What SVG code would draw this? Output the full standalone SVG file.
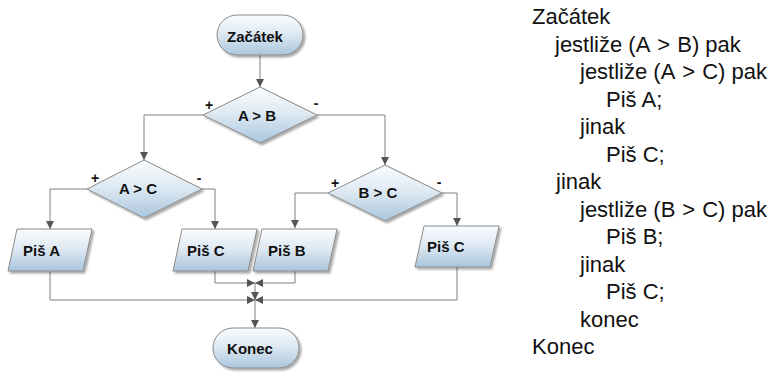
<svg xmlns="http://www.w3.org/2000/svg" width="776" height="374" viewBox="0 0 776 374">
<defs>
<linearGradient id="g" x1="0" y1="0" x2="0" y2="1">
<stop offset="0" stop-color="#fafcfe"/>
<stop offset="0.45" stop-color="#dfeaf3"/>
<stop offset="1" stop-color="#aac6dd"/>
</linearGradient>
<filter id="sh" x="-20%" y="-20%" width="140%" height="150%">
<feDropShadow dx="2" dy="2" stdDeviation="1" flood-color="#000" flood-opacity="0.35"/>
</filter>
<marker id="ah" viewBox="0 0 10 10" refX="10" refY="5" markerWidth="8" markerHeight="8" markerUnits="userSpaceOnUse" orient="auto">
<path d="M0,0 L10,5 L0,10 z" fill="#555"/>
</marker>
</defs>
<style>
.n{fill:url(#g);stroke:#8a8a8a;stroke-width:1;filter:url(#sh)}
.t{font-family:"Liberation Sans",Arial,sans-serif;font-size:15px;font-weight:bold;fill:#111}
.s{font-family:"Liberation Sans",Arial,sans-serif;font-size:14px;font-weight:bold;fill:#111}
.c{fill:none;stroke:#808080;stroke-width:1}
.a{marker-end:url(#ah)}
.p{font-family:"Liberation Sans",Arial,sans-serif;font-size:22px;fill:#111}
</style>
<g id="connectors">
<path class="c a" d="M260,55 V87"/>
<path class="c a" d="M203,115 H144 V160"/>
<path class="c a" d="M317,115 H385 V165"/>
<path class="c a" d="M87,189 H50 V229"/>
<path class="c a" d="M202,189 H215 V229"/>
<path class="c a" d="M328,193 H295 V228"/>
<path class="c a" d="M442,193 H457 V226"/>
<path class="c a" d="M215,271 V283 H255"/>
<path class="c a" d="M295,271 V283 H255"/>
<path class="c a" d="M255,283 V300"/>
<path class="c a" d="M50,271 V300 H255"/>
<path class="c a" d="M457,267 V300 H255"/>
<path class="c a" d="M255,300 V328"/>
</g>
<g id="start">
<rect class="n" x="217" y="15" width="86" height="40" rx="20"/>
<text class="t" x="255" y="42" text-anchor="middle">Začátek</text>
</g>
<g id="d1">
<polygon class="n" points="260,87 317,115 260,143 203,115"/>
<text class="t" x="257" y="121" text-anchor="middle">A &gt; B</text>
<text class="s" x="209" y="110" text-anchor="middle">+</text>
<text class="s" x="316" y="108" text-anchor="middle">-</text>
</g>
<g id="d2">
<polygon class="n" points="144,160 202,189 144,218 87,189"/>
<text class="t" x="138" y="194" text-anchor="middle">A  &gt; C</text>
<text class="s" x="95" y="183" text-anchor="middle">+</text>
<text class="s" x="199" y="183" text-anchor="middle">-</text>
</g>
<g id="d3">
<polygon class="n" points="385,165 442,193 385,221 328,193"/>
<text class="t" x="378" y="198" text-anchor="middle">B &gt; C</text>
<text class="s" x="335" y="188" text-anchor="middle">+</text>
<text class="s" x="439" y="187" text-anchor="middle">-</text>
</g>
<g id="pisA">
<polygon class="n" points="17,229 92,229 83,271 8,271"/>
<text class="t" x="23" y="256">Piš A</text>
</g>
<g id="pisC1">
<polygon class="n" points="182,229 257,229 248,271 173,271"/>
<text class="t" x="187" y="256">Piš C</text>
</g>
<g id="pisB">
<polygon class="n" points="262,229 337,229 328,271 253,271"/>
<text class="t" x="268" y="256">Piš B</text>
</g>
<g id="pisC2">
<polygon class="n" points="424,226 499,226 490,267 415,267"/>
<text class="t" x="427" y="252">Piš C</text>
</g>
<g id="end">
<rect class="n" x="213" y="328" width="86" height="40" rx="20"/>
<text class="t" x="250" y="354" text-anchor="middle">Konec</text>
</g>
<g id="pseudocode">
<text class="p" x="532" y="24">Začátek</text>
<text class="p" x="555" y="51.5">jestliže (A<tspan dx="7">&gt;</tspan><tspan dx="7">B) pak</tspan></text>
<text class="p" x="580" y="79">jestliže (A<tspan dx="7">&gt;</tspan><tspan dx="7">C) pak</tspan></text>
<text class="p" x="606" y="106.5">Piš A;</text>
<text class="p" x="580" y="134">jinak</text>
<text class="p" x="606" y="161.5">Piš C;</text>
<text class="p" x="556" y="189">jinak</text>
<text class="p" x="580" y="216.5">jestliže (B<tspan dx="7">&gt;</tspan><tspan dx="7">C) pak</tspan></text>
<text class="p" x="606" y="244">Piš B;</text>
<text class="p" x="580" y="271.5">jinak</text>
<text class="p" x="606" y="299">Piš C;</text>
<text class="p" x="580" y="326.5">konec</text>
<text class="p" x="532" y="354">Konec</text>
</g>
</svg>
